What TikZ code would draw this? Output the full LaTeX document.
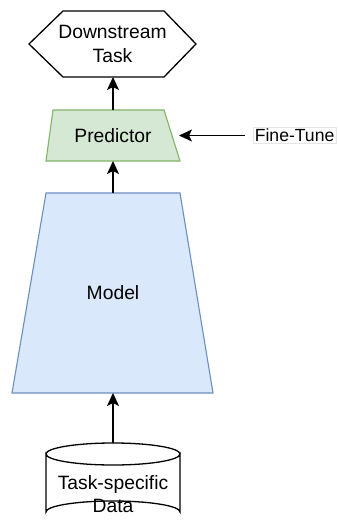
\documentclass[tikz,border=0pt]{standalone}
\usepackage{fontspec}
\setmainfont{Liberation Sans}
\usetikzlibrary{arrows.meta}
\definecolor{predfill}{HTML}{D5E8D4}
\definecolor{predline}{HTML}{82B366}
\definecolor{modelfill}{HTML}{DAE8FC}
\definecolor{modelline}{HTML}{6C8EBF}
\definecolor{tagline}{HTML}{E4E4E4}
\tikzset{
  flow/.style={-{Stealth[length=13pt,width=12pt,inset=3pt]}, line width=1.6pt, draw=black},
  txt/.style={font=\fontsize{19.3}{23.5}\selectfont, align=center, inner sep=0pt},
  outline/.style={line width=1.3pt, draw=black, fill=white}
}
\begin{document}
\begin{tikzpicture}[x=1pt,y=-1pt]
\useasboundingbox (0,0) rectangle (337,524);

% downstream task (hexagon)
\draw[outline] (29,44) -- (63,11) -- (164,11) -- (196,44) -- (164,77) -- (63,77) -- cycle;
\node[txt] (task) at (112.5,44) {Downstream\\Task};
\coordinate (taskB) at (113,77);

% predictor head
\draw[line width=1.1pt, draw=predline, fill=predfill] (46,161) -- (53,110) -- (164,110) -- (180,161) -- cycle;
\node[txt] (pred) at (113,135.5) {Predictor};
\coordinate (predT) at (113,110);
\coordinate (predB) at (113,161);
\coordinate (predR) at (179,135.5);

% backbone model
\draw[line width=1.1pt, draw=modelline, fill=modelfill] (12,393) -- (46,193) -- (180,193) -- (213,393) -- cycle;
\node[txt] (model) at (113,293) {Model};
\coordinate (modelT) at (113,193);
\coordinate (modelB) at (113,393);

% task-specific data (cylinder)
\draw[outline] (46,454) -- (46,512) arc[start angle=180, end angle=360, x radius=67, y radius=11]
  -- (180,454) arc[start angle=0, end angle=180, x radius=67, y radius=11] -- cycle;
\draw[line width=1.3pt] (180,454) arc[start angle=0, end angle=-180, x radius=67, y radius=11];
\node[txt] (data) at (113,494) {Task-specific\\Data};
\coordinate (dataT) at (113,443);

% fine-tune label
\node[draw=tagline, line width=0.6pt, font=\fontsize{17.6}{20}\selectfont, inner sep=1.5pt, anchor=west] (ft) at (253,135.5) {Fine-Tune};
\coordinate (ftS) at (245,135.5);

% connectors
\draw[flow] (predT) -- (taskB);
\draw[flow] (modelT) -- (predB);
\draw[flow] (dataT) -- (modelB);
\draw[flow] (ftS) -- (predR);
\end{tikzpicture}
\end{document}
